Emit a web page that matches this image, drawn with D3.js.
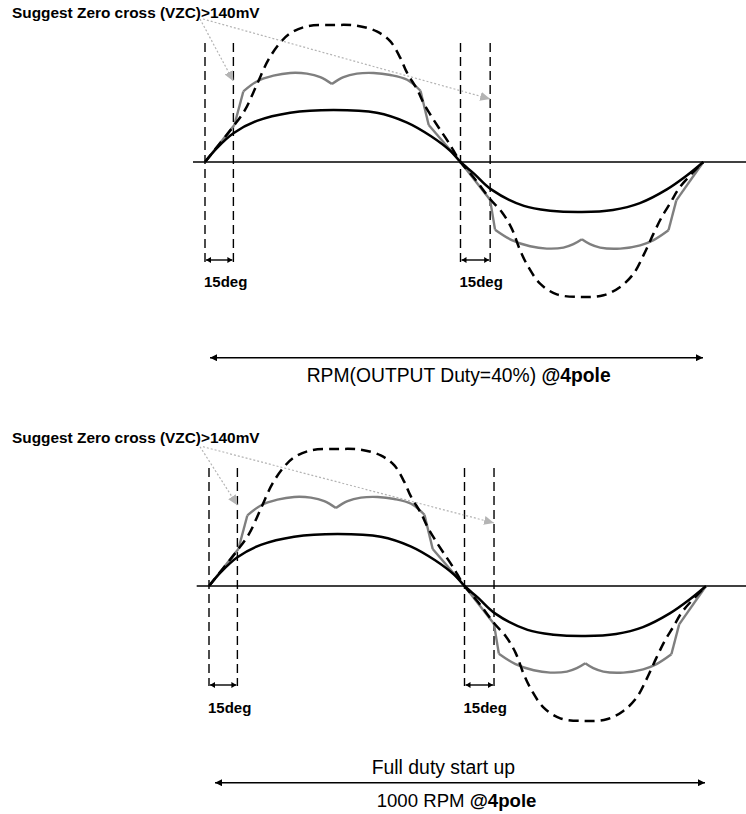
<!DOCTYPE html>
<html><head><meta charset="utf-8">
<script src="https://cdn.jsdelivr.net/npm/d3@7"></script>
<style>
body{margin:0;background:#fff}
svg{display:block}
text{font-family:"Liberation Sans",Arial,Helvetica,sans-serif;fill:#000}
</style>
</head><body>
<svg id="c" width="746" height="814"></svg>
<script>
// ---------------- DATA (electrical degrees, normalised amplitude) ----------------
const phaseDomain = [0, 180, 360];
// solid black back-EMF (sine-like)
const blackWave = [[0,0],[8.2,0.10],[20,0.21],[36.5,0.30],[60,0.36],[90.6,0.38],[121,0.36],[142,0.29],[159,0.19],[173,0.08],[180,0],
  [190,-0.085],[202.7,-0.2],[227,-0.32],[246.5,-0.355],[270,-0.365],[293,-0.35],[313,-0.30],[333,-0.20],[348,-0.097],[360,0]];
// dashed black (high-amplitude) waveform
const dashedWave = [[0,0],[10,0.13],[20,0.26],[28.2,0.38],[36.5,0.565],[44.7,0.747],[52.9,0.87],[60,0.94],[71.8,0.99],[90.6,1.0],
  [107,0.995],[121,0.953],[130.6,0.88],[137.6,0.76],[142.4,0.65],[149.4,0.53],[154,0.43],[158.8,0.345],[164.7,0.25],[171.8,0.14],[180,0],
  [189.5,-0.109],[202.4,-0.275],[210.6,-0.365],[218,-0.486],[224.2,-0.645],[230.3,-0.766],[239,-0.888],[251.4,-0.966],[270,-0.985],
  [286,-0.973],[298.4,-0.912],[308.3,-0.815],[315.7,-0.68],[323.1,-0.523],[329.3,-0.40],[335.5,-0.30],[342.9,-0.18],[360,0]];
// grey waveform: [deg, value, corner flag]
const grayWave = [[0,0,1],[20.7,0.27,1],[27,0.515,1],[36.5,0.588],[48.2,0.63],[60,0.65],[71.8,0.645],[81.2,0.62],[89.4,0.57,1],
  [97.6,0.62],[107,0.645],[118.8,0.65],[130.6,0.635],[142.4,0.60],[151.8,0.52,1],[157.6,0.27,1],[180,0,1],
  [201.9,-0.275,1],[205.6,-0.494,1],[218,-0.57],[231.6,-0.615],[244,-0.632],[256.3,-0.625],[263.7,-0.60],[270,-0.564,1],
  [276,-0.60],[283.5,-0.625],[298.4,-0.632],[313.2,-0.608],[323.1,-0.57],[334.2,-0.498,1],[340,-0.28,1],[360,0,1]];
const markerPairs = [[0,20],[180,202]];
const markerLabels = ["15deg","15deg"];
const annotTargets = [[20,0.59],[202,0.46]];
const annotText = "Suggest Zero cross (VZC)>140mV";
const panelNotes = [
  [[["RPM(OUTPUT Duty=40%) ",400],["@4pole",700]]],
  [[["Full duty start up",400]],[["1000 RPM ",400],["@4pole",700]]]
];

// ---------------- LAYOUT ----------------
const panels = [
  {zero:162, xr:[205,460.5,703.3], amp:137, zl:[193,746], vTop:43, vBot:263, arrY:260, labY:287, titleY:17.5,
   src:[200,19], spanY:357.7, spanX:[210,703], notes:[{x:306.7,y:381.7,fs:19.3}]},
  {zero:586, xr:[209,464.5,706], amp:137, zl:[196.7,746], vTop:468, vBot:686, arrY:685, labY:712.5, titleY:443.3,
   src:[200,446.7], spanY:782.7, spanX:[215,705], notes:[{x:371.7,y:774,fs:19.4},{x:376.7,y:806.7,fs:18.6}]}
];

const svg = d3.select("#c");
const defs = svg.append("defs");
function mk(id, color, len, wid){
  defs.append("marker").attr("id",id).attr("viewBox",`0 0 ${len} ${wid}`)
    .attr("refX",len).attr("refY",wid/2).attr("markerWidth",len).attr("markerHeight",wid)
    .attr("markerUnits","userSpaceOnUse").attr("orient","auto-start-reverse")
    .append("path").attr("d",`M0,0L${len},${wid/2}L0,${wid}Z`).attr("fill",color);
}
mk("ab","#000",7,7);
mk("as","#000",5,6);
mk("ag","#b4b4b4",10,9);

panels.forEach((p,pi)=>{
  const g = svg.append("g");
  const x = d3.scaleLinear().domain(phaseDomain).range(p.xr);
  const y = d3.scaleLinear().domain([-1,1]).range([p.zero+p.amp, p.zero-p.amp]);
  const smooth = d3.line().x(d=>x(d[0])).y(d=>y(d[1])).curve(d3.curveCatmullRom.alpha(0.5));

  // zero axis
  g.append("line").attr("x1",p.zl[0]).attr("x2",p.zl[1]).attr("y1",y(0)).attr("y2",y(0))
    .attr("stroke","#000").attr("stroke-width",1.5);

  // vertical dashed marker lines
  markerPairs.forEach((pair,i)=>{
    pair.forEach(d=>{
      g.append("line").attr("x1",x(d)).attr("x2",x(d)).attr("y1",p.vTop).attr("y2",p.vBot)
        .attr("stroke","#000").attr("stroke-width",1.4).attr("stroke-dasharray","9,5");
    });
    g.append("line").attr("x1",x(pair[0])+1).attr("x2",x(pair[1])-1).attr("y1",p.arrY).attr("y2",p.arrY)
      .attr("stroke","#000").attr("stroke-width",1.4)
      .attr("marker-start","url(#as)").attr("marker-end","url(#as)");
    g.append("text").attr("x",x(pair[0])-1).attr("y",p.labY).attr("font-size",15).attr("font-weight",700)
      .text(markerLabels[i]);
  });

  // grey waveform split at corners
  const segs=[]; let cur=[];
  grayWave.forEach((d,i)=>{
    cur.push(d);
    if(d[2] && cur.length>1){ segs.push(cur); cur=[d]; }
  });
  segs.forEach(s=>{
    g.append("path").attr("d",smooth(s)).attr("fill","none").attr("stroke","#7f7f7f")
      .attr("stroke-width",2.4).attr("stroke-linejoin","round");
  });
  // solid black
  g.append("path").attr("d",smooth(blackWave)).attr("fill","none").attr("stroke","#000").attr("stroke-width",2.5);
  // dashed black
  g.append("path").attr("d",smooth(dashedWave)).attr("fill","none").attr("stroke","#000").attr("stroke-width",2.5)
    .attr("stroke-dasharray","10,6");

  // annotation
  g.append("text").attr("x",12).attr("y",p.titleY).attr("font-size",15.4).attr("font-weight",700).text(annotText);
  annotTargets.forEach(t=>{
    g.append("line").attr("x1",p.src[0]+(t[0]>100?3:0)).attr("y1",p.src[1]).attr("x2",x(t[0])).attr("y2",y(t[1]))
      .attr("stroke","#b4b4b4").attr("stroke-width",1.2).attr("stroke-dasharray","2,2")
      .attr("marker-end","url(#ag)");
  });

  // span arrow
  g.append("line").attr("x1",p.spanX[0]).attr("x2",p.spanX[1]).attr("y1",p.spanY).attr("y2",p.spanY)
    .attr("stroke","#000").attr("stroke-width",1.5)
    .attr("marker-start","url(#ab)").attr("marker-end","url(#ab)");

  panelNotes[pi].forEach((parts,k)=>{
    const t = g.append("text").attr("x",p.notes[k].x).attr("y",p.notes[k].y).attr("font-size",p.notes[k].fs);
    parts.forEach(pt=>t.append("tspan").attr("font-weight",pt[1]).text(pt[0]));
  });
});
</script>
</body></html>
